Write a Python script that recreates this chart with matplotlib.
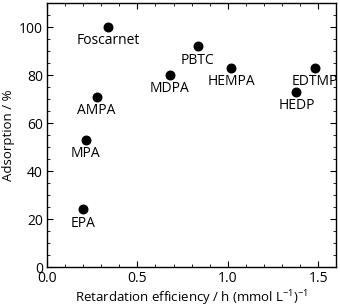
import matplotlib
matplotlib.use("Agg")
import matplotlib.pyplot as plt
from matplotlib.ticker import MultipleLocator

plt.rcParams['font.family'] = ['Open Sans', 'DejaVu Sans']
plt.rcParams['mathtext.fontset'] = 'custom'
plt.rcParams['mathtext.rm'] = 'Open Sans'
plt.rcParams['mathtext.it'] = 'Open Sans'

# data
names = ["Foscarnet", "AMPA", "MPA", "EPA", "MDPA", "PBTC", "HEMPA", "EDTMP", "HEDP"]
retardation = [0.34, 0.275, 0.215, 0.20, 0.68, 0.835, 1.02, 1.48, 1.38]
adsorption = [100, 71, 53, 24, 80, 92, 83, 83, 73]

fig = plt.figure(figsize=(3.4, 3.08), dpi=100)
ax = fig.add_axes([0.138, 0.133, 0.851, 0.857])

ax.scatter(retardation, adsorption, s=38, color="black", zorder=3)
for n, x, y in zip(names, retardation, adsorption):
    ax.annotate(n, (x, y), xytext=(0, -4.5), textcoords="offset points",
                ha="center", va="top", fontsize=10)

ax.set_xlim(0, 1.6)
ax.set_ylim(0, 110)
ax.xaxis.set_major_locator(MultipleLocator(0.5))
ax.xaxis.set_minor_locator(MultipleLocator(0.1))
ax.yaxis.set_major_locator(MultipleLocator(20))
ax.yaxis.set_minor_locator(MultipleLocator(5))
ax.xaxis.set_major_formatter(plt.FormatStrFormatter("%.1f"))
ax.tick_params(which="both", direction="in", top=True, right=True, labelsize=10)
ax.tick_params(which="major", length=4, pad=3)
ax.tick_params(which="minor", length=2)
for s in ax.spines.values():
    s.set_linewidth(1.0)

ax.set_xlabel("Retardation efficiency / h (mmol L$^{-1}$)$^{-1}$", fontsize=9.5, labelpad=1.5)
ax.set_ylabel("Adsorption / %", fontsize=9.5, labelpad=3)

fig.savefig("out.png", dpi=100)
